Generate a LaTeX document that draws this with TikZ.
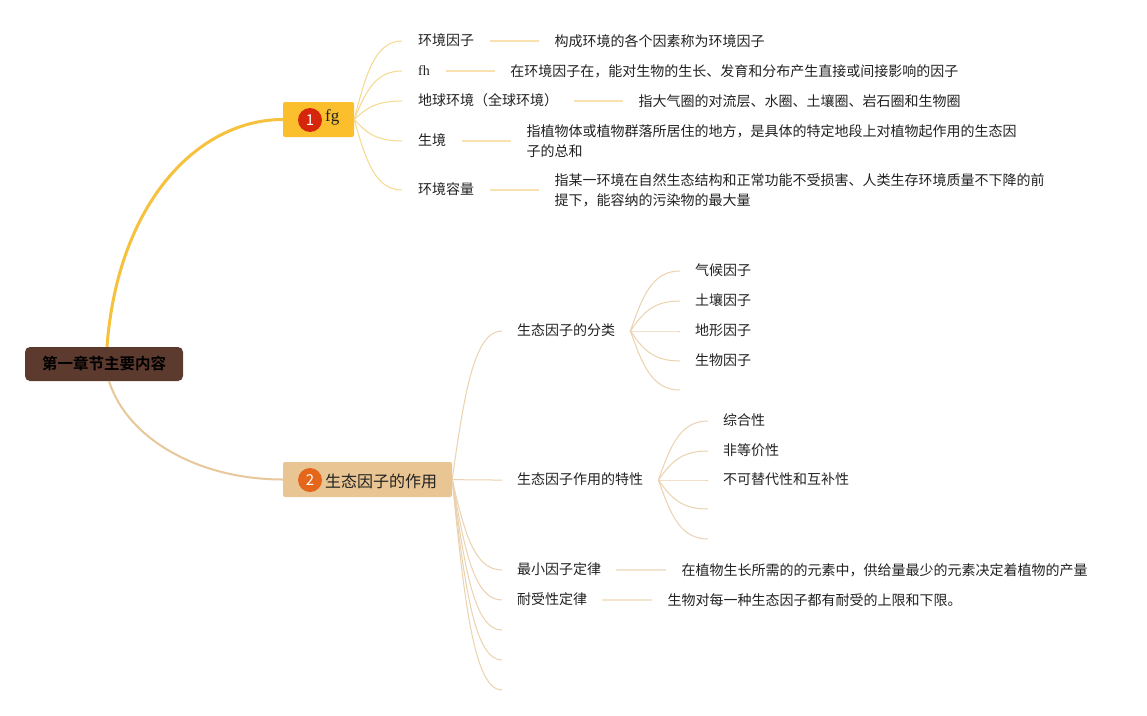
\documentclass[tikz,border=0pt]{standalone}
\usepackage{fontspec}
\newfontfamily\cjk[BoldFont={Noto Sans CJK SC Bold}]{Noto Sans CJK SC}
\newfontfamily\lser{Liberation Serif}
\usetikzlibrary{calc}
\definecolor{rootc}{HTML}{5C3A2E}
\definecolor{onefill}{HTML}{FBBF2E}
\definecolor{onecirc}{HTML}{D5260C}
\definecolor{twofill}{HTML}{E8C593}
\definecolor{twocirc}{HTML}{E4661A}
\definecolor{curveone}{HTML}{F6C23E}
\definecolor{curvetwo}{HTML}{E8C79A}
\definecolor{brone}{HTML}{F6D88E}
\definecolor{brtwo}{HTML}{EBD2AE}
\definecolor{lnone}{HTML}{F8E2B0}
\definecolor{lntwo}{HTML}{F2E4CE}
\definecolor{txt}{HTML}{222222}
\tikzset{
  topic/.style={anchor=west, inner xsep=15pt, inner ysep=2pt, text=txt,
    font=\cjk\fontsize{14}{20}\selectfont, text height=10.5pt, text depth=2pt},
  topicA/.style={topic, inner xsep=16pt},
  desc/.style={anchor=west, inner xsep=15pt, inner ysep=2pt, text=txt, align=left,
    font=\cjk\fontsize{14}{20}\selectfont},
  boxnode/.style={rounded corners=2pt, inner sep=0pt},
  badge/.style={circle, inner sep=0pt, minimum size=24pt, text=white,
    font=\cjk\fontsize{15}{15}\selectfont},
  branch/.style={to path={let \p1=(\tikztostart), \p2=(\tikztotarget) in
    .. controls ({\x1+0.25*(\x2-\x1)},{\y1+0.6*(\y2-\y1)}) and ({\x1+0.45*(\x2-\x1)},\y2) .. (\tikztotarget)}},
  brA/.style={draw=brone, line width=1pt},
  brB/.style={draw=brtwo, line width=1pt},
  lineA/.style={draw=lnone, line width=2pt},
  lineB/.style={draw=lntwo, line width=2pt},
}
\begin{document}
\begin{tikzpicture}[x=1pt,y=-1pt]
\useasboundingbox[fill=white] (0,0) rectangle (1147,715);

% root
\node[rounded corners=5pt, fill=rootc, minimum width=158pt, minimum height=34pt, inner sep=0pt,
  text=black, font=\cjk\bfseries\fontsize{15.5}{18}\selectfont] (root) at (104,364) {第一章节主要内容};

% main topic 1
\node[boxnode, fill=onefill, minimum width=71pt, minimum height=35pt] (n1) at (318.5,119.5) {};
\node[badge, fill=onecirc] (c1n) at (310,120) {1};
\node[anchor=west, inner sep=0pt, text=txt, font=\lser\fontsize{17}{17}\selectfont] (t1) at (325,117) {fg};

% main topic 2
\node[boxnode, fill=twofill, minimum width=169pt, minimum height=35pt] (n2) at (367.5,479.5) {};
\node[badge, fill=twocirc] (c2n) at (310,480) {2};
\node[anchor=west, inner sep=0pt, text=txt, font=\cjk\fontsize{16}{16}\selectfont] (t2) at (325,481) {生态因子的作用};

% root connectors
\draw[curveone, line width=3pt] ($(root.north)+(3,0)$) .. controls (118,200) and (200,119.5) .. (n1.west);
\draw[curvetwo, line width=2pt] ($(root.south)+(5,0)$) .. controls (128,440) and (200,479.5) .. (n2.west);

% children of topic 1
\node[topicA] (a1) at (402,41) {环境因子};
\node[topicA] (a2) at (402,71) {\lser fh};
\node[topicA] (a3) at (402,101) {地球环境（全球环境）};
\node[topicA] (a4) at (402,141) {生境};
\node[topicA] (a5) at (402,190) {环境容量};
\foreach \c in {a1,a2,a3,a4,a5} \draw[brA] (n1.east) to[branch] (\c.west);

\node[desc] (d1) at ($(a1.east)+(49,0)$) {构成环境的各个因素称为环境因子};
\node[desc] (d2) at ($(a2.east)+(49,0)$) {在环境因子在，能对生物的生长、发育和分布产生直接或间接影响的因子};
\node[desc] (d3) at ($(a3.east)+(49,0)$) {指大气圈的对流层、水圈、土壤圈、岩石圈和生物圈};
\node[desc] (d4) at ($(a4.east)+(49,0)$) {指植物体或植物群落所居住的地方，是具体的特定地段上对植物起作用的生态因\\子的总和};
\node[desc] (d5) at ($(a5.east)+(49,0)$) {指某一环境在自然生态结构和正常功能不受损害、人类生存环境质量不下降的前\\提下，能容纳的污染物的最大量};
\foreach \i in {1,...,5} \draw[lineA] (a\i.east) -- (d\i.west);

% children of topic 2
\node[topic] (k1) at (502,331) {生态因子的分类};
\node[topic] (k2) at (502,480) {生态因子作用的特性};
\node[topic] (k3) at (502,570) {最小因子定律};
\node[topic] (k4) at (502,600) {耐受性定律};
\coordinate (e1) at (502,630);
\coordinate (e2) at (502,660);
\coordinate (e3) at (502,690);
\foreach \c in {k1.west,k2.west,k3.west,k4.west,e1,e2,e3} \draw[brB] (n2.east) to[branch] (\c);

\node[desc] (m3) at ($(k3.east)+(50,0)$) {在植物生长所需的的元素中，供给量最少的元素决定着植物的产量};
\node[desc] (m4) at ($(k4.east)+(50,0)$) {生物对每一种生态因子都有耐受的上限和下限。};
\draw[lineB] (k3.east) -- (m3.west);
\draw[lineB] (k4.east) -- (m4.west);

% sub-children of k1
\node[topic] (s1) at (680,271) {气候因子};
\node[topic] (s2) at (680,301) {土壤因子};
\node[topic] (s3) at (680,331) {地形因子};
\node[topic] (s4) at (680,361) {生物因子};
\coordinate (s5) at (680,390);
\foreach \c in {s1.west,s2.west,s3.west,s4.west,s5} \draw[brB] (k1.east) to[branch] (\c);

% sub-children of k2
\node[topic] (p1) at (708,421) {综合性};
\node[topic] (p2) at (708,451) {非等价性};
\node[topic] (p3) at (708,480) {不可替代性和互补性};
\coordinate (p4) at (708,509);
\coordinate (p5) at (708,539);
\foreach \c in {p1.west,p2.west,p3.west,p4,p5} \draw[brB] (k2.east) to[branch] (\c);
\end{tikzpicture}
\end{document}
